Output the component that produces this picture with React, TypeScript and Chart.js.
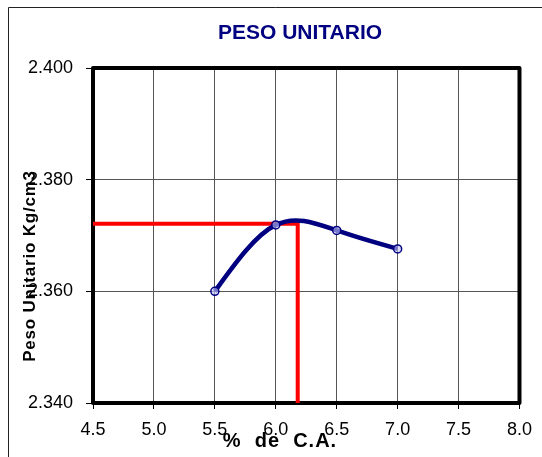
import React, { useEffect, useRef } from "react";
import { Chart, registerables } from "chart.js";

Chart.register(...registerables);

// ---- data ----
const contentAC = [5.5, 6.0, 6.5, 7.0];
const unitWeight = [2.36, 2.3719, 2.3709, 2.3676];
const optimumAC = [6.18];
const optimumWeight = [2.3721];
const peakWeight = [2.3727];
const xRange = [4.5, 8.0];
const xStep = 0.5;
const yRange = [2.34, 2.4];
const yStep = 0.02;
const chartTitle = "PESO UNITARIO";
const yAxisTitle = "Peso Unitario Kg/cm3";
const xAxisTitle = "%  de  C.A.";

const FONT = "'Liberation Sans', Arial, Helvetica, sans-serif";

// Natural-spline style smoothing (like a spreadsheet "smoothed line"):
// replaces Chart.js bezier control points of the curve dataset.
const smoothPlugin = {
  id: "naturalSmooth",
  beforeDatasetDraw(chart: any, args: any) {
    if (args.index !== 0) return;
    const meta = args.meta;
    const line = meta.dataset;
    if (!line) return;
    line.updateControlPoints(chart.chartArea, meta.indexAxis);
    const pts = meta.data;
    const n = pts.length;
    if (n < 3) return;
    const xs = pts.map((p: any) => p.x);
    const ys = pts.map((p: any) => p.y);
    const h: number[] = [];
    for (let i = 0; i < n - 1; i++) h.push(xs[i + 1] - xs[i]);
    // solve tridiagonal for second derivatives M (natural: M0 = Mn-1 = 0)
    const a: number[] = new Array(n).fill(0);
    const b: number[] = new Array(n).fill(1);
    const c: number[] = new Array(n).fill(0);
    const d: number[] = new Array(n).fill(0);
    for (let i = 1; i < n - 1; i++) {
      a[i] = h[i - 1];
      b[i] = 2 * (h[i - 1] + h[i]);
      c[i] = h[i];
      d[i] = 6 * ((ys[i + 1] - ys[i]) / h[i] - (ys[i] - ys[i - 1]) / h[i - 1]);
    }
    for (let i = 1; i < n; i++) {
      const w = a[i] / b[i - 1];
      b[i] -= w * c[i - 1];
      d[i] -= w * d[i - 1];
    }
    const M: number[] = new Array(n).fill(0);
    M[n - 1] = d[n - 1] / b[n - 1];
    for (let i = n - 2; i >= 0; i--) M[i] = (d[i] - c[i] * M[i + 1]) / b[i];
    const slope: number[] = [];
    for (let i = 0; i < n - 1; i++) {
      slope[i] = (ys[i + 1] - ys[i]) / h[i] - (h[i] / 6) * (2 * M[i] + M[i + 1]);
    }
    slope[n - 1] =
      (ys[n - 1] - ys[n - 2]) / h[n - 2] + (h[n - 2] / 6) * (M[n - 2] + 2 * M[n - 1]);
    for (let i = 0; i < n; i++) {
      const p = pts[i];
      const hl = i > 0 ? h[i - 1] / 3 : 0;
      const hr = i < n - 1 ? h[i] / 3 : 0;
      p.cp1x = xs[i] - hl;
      p.cp1y = ys[i] - slope[i] * hl;
      p.cp2x = xs[i] + hr;
      p.cp2y = ys[i] + slope[i] * hr;
    }
  },
};

const decorPlugin = {
  id: "decor",
  beforeDatasetsDraw(chart: any) {
    const { ctx, chartArea } = chart;
    ctx.save();
    ctx.strokeStyle = "#000";
    ctx.lineWidth = 4;
    ctx.lineJoin = "round";
    ctx.strokeRect(
      chartArea.left,
      chartArea.top,
      chartArea.right - chartArea.left,
      chartArea.bottom - chartArea.top
    );
    ctx.restore();
  },
  afterDraw(chart: any) {
    const { ctx } = chart;
    ctx.save();
    // outer frame
    ctx.strokeStyle = "#222";
    ctx.lineWidth = 1;
    ctx.beginPath();
    ctx.moveTo(8.5, 460);
    ctx.lineTo(8.5, 7.5);
    ctx.lineTo(545, 7.5);
    ctx.stroke();

    // chart title
    ctx.fillStyle = "#000080";
    ctx.font = `bold 21px ${FONT}`;
    ctx.textAlign = "center";
    ctx.textBaseline = "middle";
    ctx.fillText(chartTitle, 300, 33);

    // x title
    ctx.fillStyle = "#000";
    ctx.font = `bold 20px ${FONT}`;
    (ctx as any).letterSpacing = "1px";
    ctx.fillText(xAxisTitle, 280, 441);

    // y title
    ctx.save();
    ctx.translate(30, 266);
    ctx.rotate(-Math.PI / 2);
    ctx.font = `bold 17px ${FONT}`;
    (ctx as any).letterSpacing = "0.8px";
    ctx.fillText(yAxisTitle, 0, 0);
    ctx.restore();
    ctx.restore();
  },
};

export default function App() {
  const canvasRef = useRef<HTMLCanvasElement | null>(null);

  useEffect(() => {
    if (!canvasRef.current) return;
    const curve = contentAC.map((x, i) => ({ x, y: unitWeight[i] }));
    const hLine = [
      { x: xRange[0], y: optimumWeight[0] },
      { x: optimumAC[0], y: optimumWeight[0] },
    ];
    const vLine = [
      { x: optimumAC[0], y: peakWeight[0] },
      { x: optimumAC[0], y: yRange[0] },
    ];
    const chart = new Chart(canvasRef.current, {
      type: "scatter",
      data: {
        datasets: [
          {
            data: curve,
            showLine: true,
            borderColor: "#000080",
            borderWidth: 4.5,
            tension: 0.4,
            pointRadius: 4,
            pointBorderWidth: 1.5,
            pointBorderColor: "#000080",
            pointBackgroundColor: "rgba(200,200,255,0.6)",
            order: 0,
          },
          {
            data: hLine,
            showLine: true,
            borderColor: "#ff0000",
            borderWidth: 4,
            pointRadius: 0,
            tension: 0,
            order: 1,
          },
          {
            data: vLine,
            showLine: true,
            borderColor: "#ff0000",
            borderWidth: 4,
            pointRadius: 0,
            tension: 0,
            order: 1,
          },
        ],
      },
      options: {
        responsive: false,
        animation: false,
        clip: false as any,
        layout: { padding: { left: 0, right: 22, top: 68, bottom: 0 } },
        plugins: {
          legend: { display: false },
          title: { display: false },
          tooltip: { enabled: false },
        },
        scales: {
          x: {
            type: "linear",
            min: xRange[0],
            max: xRange[1],
            afterFit(scale: any) {
              scale.height = 457 - 403;
            },
            ticks: {
              stepSize: xStep,
              color: "#000",
              font: { family: FONT, size: 18 },
              padding: 10,
              maxRotation: 0,
              callback: (v: any) => Number(v).toFixed(1),
            },
            grid: {
              color: "#555",
              lineWidth: 1,
              tickLength: 6,
              tickColor: "#000",
            },
            border: { display: false },
          },
          y: {
            type: "linear",
            min: yRange[0],
            max: yRange[1],
            afterFit(scale: any) {
              scale.width = 93;
            },
            ticks: {
              stepSize: yStep,
              color: "#000",
              font: { family: FONT, size: 18 },
              padding: 13,
              callback: (v: any) => Number(v).toFixed(3),
            },
            grid: {
              color: "#555",
              lineWidth: 1,
              tickLength: 7,
              tickColor: "#000",
            },
            border: { display: false },
          },
        },
      },
      plugins: [smoothPlugin, decorPlugin],
    });
    return () => chart.destroy();
  }, []);

  return (
    <div style={{ position: "absolute", left: 0, top: 0, width: 542, height: 457 }}>
      <canvas
        ref={canvasRef}
        width={542}
        height={457}
        style={{ display: "block", width: 542, height: 457 }}
      />
    </div>
  );
}
